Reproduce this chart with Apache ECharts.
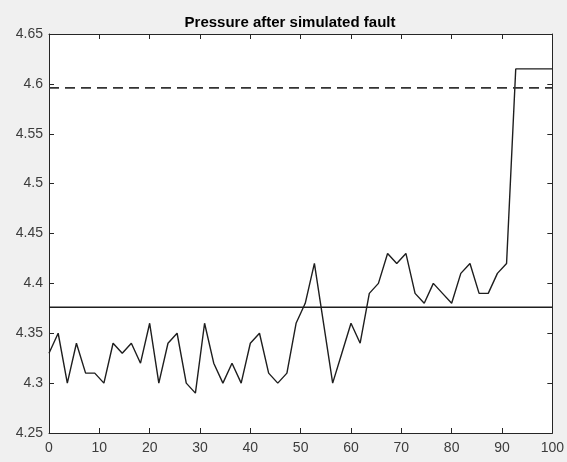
<!DOCTYPE html>
<html>
<head>
<meta charset="utf-8">
<script src="https://cdn.jsdelivr.net/npm/echarts@6/dist/echarts.min.js"></script>
<style>
html,body{margin:0;padding:0;background:#f0f0f0;}
#c{width:567px;height:462px;}
</style>
</head>
<body>
<div id="c"></div>
<script>
// Sample positions (x)
const xs = [0, 1.82, 3.64, 5.45, 7.27, 9.09, 10.91, 12.73, 14.55, 16.36, 18.18, 20, 21.82, 23.64, 25.45, 27.27, 29.09, 30.91, 32.73, 34.55, 36.36, 38.18, 40, 41.82, 43.64, 45.45, 47.27, 49.09, 50.91, 52.73, 54.55, 56.36, 58.18, 60, 61.82, 63.64, 65.45, 67.27, 69.09, 70.91, 72.73, 74.55, 76.36, 78.18, 80, 81.82, 83.64, 85.45, 87.27, 89.09, 90.91, 92.73, 94.55, 96.36, 98.18, 100];
// Pressure values
const pressure = [4.33, 4.35, 4.30, 4.34, 4.31, 4.31, 4.30, 4.34, 4.33, 4.34, 4.32, 4.36, 4.30, 4.34, 4.35, 4.30, 4.29, 4.36, 4.32, 4.30, 4.32, 4.30, 4.34, 4.35, 4.31, 4.30, 4.31, 4.36, 4.38, 4.42, 4.36, 4.30, 4.33, 4.36, 4.34, 4.39, 4.40, 4.43, 4.42, 4.43, 4.39, 4.38, 4.40, 4.39, 4.38, 4.41, 4.42, 4.39, 4.39, 4.41, 4.42, 4.615, 4.615, 4.615, 4.615, 4.615];
// Reference levels
const meanLevel = 4.376;
const thresholdLevel = 4.596;
const xRange = [0, 100];
const yRange = [4.25, 4.65];
const xTicks = [0, 10, 20, 30, 40, 50, 60, 70, 80, 90, 100];
const yTicks = [4.25, 4.3, 4.35, 4.4, 4.45, 4.5, 4.55, 4.6, 4.65];

const font = '"Liberation Sans", Arial, Helvetica, sans-serif';
const axisColor = '#262626';
const lineColor = '#1e1e1e';
const labelColor = '#3c3c3c';

const chart = echarts.init(document.getElementById('c'), null, {renderer: 'canvas'});
const fmt = v => String(parseFloat(Number(v).toFixed(2)));

const xAxisBase = {
  type: 'value', min: xRange[0], max: xRange[1], interval: 10,
  axisLine: {show: true, onZero: false, lineStyle: {color: axisColor, width: 1}},
  axisTick: {show: true, inside: true, length: 5, lineStyle: {color: axisColor}},
  splitLine: {show: false}
};
const yAxisBase = {
  type: 'value', min: yRange[0], max: yRange[1], interval: 0.05,
  axisLine: {show: true, onZero: false, lineStyle: {color: axisColor, width: 1}},
  axisTick: {show: true, inside: true, length: 5, lineStyle: {color: axisColor}},
  splitLine: {show: false}
};

chart.setOption({
  backgroundColor: '#f0f0f0',
  animation: false,
  title: {
    text: 'Pressure after simulated fault',
    left: 285, top: 10, textAlign: 'center',
    textStyle: {fontFamily: font, fontSize: 15, fontWeight: 'bold', color: '#000'}
  },
  grid: {left: 49, right: 14, top: 34, bottom: 29, show: true, backgroundColor: '#ffffff', borderWidth: 0},
  xAxis: [
    Object.assign({}, xAxisBase, {position: 'bottom',
      axisLabel: {show: true, margin: 8, fontFamily: font, fontSize: 14, color: labelColor, formatter: fmt}}),
    Object.assign({}, xAxisBase, {position: 'top', axisLabel: {show: false}})
  ],
  yAxis: [
    Object.assign({}, yAxisBase, {position: 'left',
      axisLabel: {show: true, margin: 6, fontFamily: font, fontSize: 14, color: labelColor, formatter: fmt}}),
    Object.assign({}, yAxisBase, {position: 'right', axisLabel: {show: false}})
  ],
  series: [
    {
      type: 'line', xAxisIndex: 0, yAxisIndex: 0,
      data: xs.map((x, i) => [x, pressure[i]]),
      symbol: 'none', lineStyle: {color: lineColor, width: 1.4}
    },
    {
      type: 'line', xAxisIndex: 0, yAxisIndex: 0,
      data: [[xRange[0], meanLevel], [xRange[1], meanLevel]],
      symbol: 'none', lineStyle: {color: lineColor, width: 1.4}
    },
    {
      type: 'line', xAxisIndex: 0, yAxisIndex: 0,
      data: [[xRange[0], thresholdLevel], [xRange[1], thresholdLevel]],
      symbol: 'none', lineStyle: {color: '#333', width: 1.7, type: [10, 6]}
    }
  ]
});
</script>
</body>
</html>
